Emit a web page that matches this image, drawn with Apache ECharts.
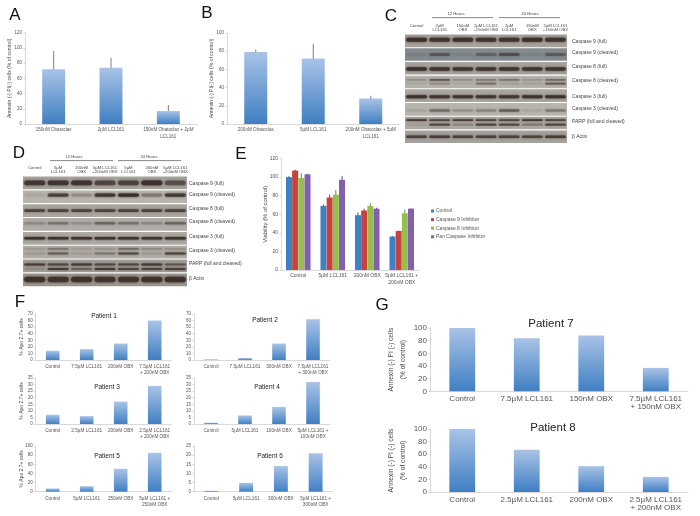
<!DOCTYPE html>
<html><head><meta charset="utf-8">
<script src="https://cdn.jsdelivr.net/npm/echarts@6/dist/echarts.min.js"></script>
<style>html,body{margin:0;padding:0;background:#fff}#c{width:700px;height:516px;filter:blur(.55px)}</style>
</head><body><div id="c"></div>
<script>
// ---------- bar panel data ----------
var aCategories = ['150nM Obatoclax', '2µM LCL161', '150nM Obatoclax + 2µM\nLCL161'];
var aValues = [72, 74, 17];
var aLow = [48, 62, 8];
var aHigh = [96, 87, 25];
var bCategories = ['200nM Obatoclax', '5µM LCL161', '200nM Obatoclax + 5µM\nLCL161'];
var bValues = [79, 72, 28];
var bLow = [77, 57, 25];
var bHigh = [82, 88, 31];

var eCategories = ['Control', '5µM LCL161', '200nM OBX', '5µM LCL161 +\n200nM OBX'];
var eNames = ['Control', 'Caspase 9 Inhibitor', 'Caspase 8 Inhibitor', 'Pan Caspase Inhibitor'];
var eControl = [100, 69, 59, 36];
var eCasp9 = [107, 78, 64, 42];
var eCasp8 = [99, 81, 69, 61];
var ePan = [103, 97, 66, 66];
var eErrControl = [1, 1.5, 3, 0.5];
var eErrCasp9 = [1, 3, 2, 0.5];
var eErrCasp8 = [5, 5, 3, 4];
var eErrPan = [0.5, 4, 1, 0.5];

var p1Cats = ['Control', '7.5µM LCL161', '200nM OBX', '7.5µM LCL161\n+ 200nM OBX'];
var p1Vals = [14, 16.5, 25, 60];
var p2Cats = ['Control', '7.5µM LCL161', '300nM OBX', '7.5µM LCL161\n+ 300nM OBX'];
var p2Vals = [1, 3, 25, 62];
var p3Cats = ['Control', '2.5µM LCL161', '200nM OBX', '2.5µM LCL161\n+ 200nM OBX'];
var p3Vals = [7, 6, 17, 29];
var p4Cats = ['Control', '5µM LCL161', '100nM OBX', '5µM LCL161 +\n100nM OBX'];
var p4Vals = [1, 6.5, 13, 32];
var p5Cats = ['Control', '5µM LCL161', '250nM OBX', '5µM LCL161 +\n250nM OBX'];
var p5Vals = [7, 12, 50, 85];
var p6Cats = ['Control', '5µM LCL161', '300nM OBX', '5µM LCL161 +\n300nM OBX'];
var p6Vals = [0.5, 4.8, 14, 21];
var p7Cats = ['Control', '7.5µM LCL161', '150nM OBX', '7.5µM LCL161\n+ 150nM OBX'];
var p7Vals = [100, 84, 88, 37];
var p8Cats = ['Control', '2.5µM LCL161', '200nM OBX', '2.5µM LCL161\n+ 200nM OBX'];
var p8Vals = [100, 67, 41, 24];

// ---------- blot data ----------
var rowNames = ['Caspase 9 (full)', 'Caspase 9 (cleaved)', 'Caspase 8 (full)', 'Caspase 8 (cleaved)', 'Caspase 3 (full)', 'Caspase 3 (cleaved)', 'PARP (full and cleaved)', 'β Actin'];
var cLanes = ['Control\n ', '2µM\nLCL161', '150nM\nOBX', '2µM LCL161\n+150nM OBX', '2µM\nLCL161', '150nM\nOBX', '2µM LCL161\n+150nM OBX'];
var dLanes = ['Control\n ', '5µM\nLCL161', '200nM\nOBX', '5µM LCL161\n+200nM OBX', '5µM\nLCL161', '200nM\nOBX', '5µM LCL161\n+200nM OBX'];
var cShades = ['#a5a19b', '#838b8f', '#a6a39e', '#b5b2ac', '#aaa7a1', '#b8b5af', '#aeaaa4', '#a5a29d'];
var dShades = ['#a6a29c', '#b8b4ae', '#aaa6a0', '#b0aca6', '#adA9a3', '#b0aca6', '#a29e98', '#9a968f'];
// [row, position within row, band thickness, intensity of each lane]
var cBandRows = [
  [0, .42, 4.2, [.95, .85, .9, .85, .85, .95, .85]],
  [1, .5, 3, [.08, .42, .05, .3, .5, .05, .36]],
  [2, .55, 3.4, [.92, .85, .85, .85, .85, .85, .85]],
  [3, .35, 1.6, [.18, .55, .18, .3, .35, .15, .4]],
  [3, .62, 1.6, [.05, .2, .05, .4, .1, .1, .55]],
  [4, .58, 2.8, [.95, .85, .85, .85, .85, .9, .9]],
  [5, .58, 2.4, [.08, .4, .18, .25, .5, .06, .3]],
  [6, .28, 1.7, [.85, .7, .8, .72, .72, .85, .72]],
  [6, .62, 1.7, [.08, .75, .25, .78, .75, .35, .78]],
  [7, .5, 2.4, [.72, .75, .72, .72, .72, .68, .78]]
];
var dBandRows = [
  [0, .5, 4.6, [.8, .82, .85, .6, .65, .95, .52]],
  [1, .38, 3.4, [.05, .72, .18, .85, .98, .3, .82]],
  [2, .5, 2.8, [.68, .68, .68, .68, .68, .68, .68]],
  [3, .42, 2.6, [.18, .32, .15, .42, .33, .2, .42]],
  [4, .5, 2.6, [.95, .92, .92, .92, .92, .92, .92]],
  [5, .27, 1.6, [.1, .32, .1, .14, .38, .2, .14]],
  [5, .6, 2, [.1, .5, .1, .32, .65, .12, .75]],
  [6, .4, 2, [.8, .68, .85, .65, .68, .85, .52]],
  [6, .72, 2.2, [.12, .8, .42, .8, .7, .7, .75]],
  [7, .48, 5.6, [.85, .82, .85, .82, .82, .85, .88]]
];

// ---------- option assembly ----------
var G = echarts.graphic;
var barFill = new G.LinearGradient(0, 0, 0, 1, [{offset: 0, color: '#a9c3e6'}, {offset: 1, color: '#3f7fc3'}]);
var grid = [], xAxis = [], yAxis = [], series = [], title = [], texts = [];

function addAxes(box, cats, yMax, yStep, yName, opt) {
  opt = opt || {};
  var i = grid.length;
  grid.push({left: box[0], top: box[1], width: box[2], height: box[3]});
  xAxis.push({gridIndex: i, type: 'category', data: cats,
    axisLine: {lineStyle: {color: '#cfcfcf', width: .8}}, axisTick: {show: false},
    axisLabel: {interval: 0, fontSize: opt.xf || 5, color: opt.xc || '#555', margin: opt.xm || 4, lineHeight: opt.xl || (opt.xf || 5) + 1.6, fontFamily: 'Liberation Sans'}});
  yAxis.push({gridIndex: i, type: 'value', min: 0, max: yMax, interval: yStep,
    name: yName, nameLocation: 'middle', nameGap: opt.ng || 14, nameRotate: 90, nameMoveOverlap: false,
    nameTextStyle: {fontSize: opt.nf || 5.5, color: '#444', fontFamily: 'Liberation Sans', lineHeight: opt.nl || (opt.nf || 5.5) + 1},
    axisLine: {show: true, lineStyle: {color: '#cfcfcf', width: .8}},
    axisTick: {show: true, length: 1.5, lineStyle: {color: '#bbb', width: .6}},
    splitLine: {show: false},
    axisLabel: {fontSize: opt.yf || 4.5, color: '#555', margin: 3, fontFamily: 'Liberation Sans'}});
  return i;
}
function errRender(offsetFn, color) {
  return function (params, api) {
    var c = api.value(0), a = api.coord([c, api.value(1)]), b = api.coord([c, api.value(2)]);
    var dx = offsetFn ? offsetFn : 0;
    return {type: 'line', shape: {x1: a[0] + dx, y1: a[1], x2: b[0] + dx, y2: b[1]}, style: {stroke: color, lineWidth: 1}};
  };
}
function addBarPanel(box, cats, vals, yMax, yStep, yName, opt, low, high) {
  var i = addAxes(box, cats, yMax, yStep, yName, opt);
  series.push({type: 'bar', xAxisIndex: i, yAxisIndex: i, data: vals, barWidth: '40%', itemStyle: {color: barFill}, silent: true, animation: false});
  if (low) {
    series.push({type: 'custom', xAxisIndex: i, yAxisIndex: i, animation: false, silent: true,
      encode: {x: 0, y: [1, 2]},
      data: low.map(function (v, k) { return [k, v, high[k]]; }),
      renderItem: errRender(0, '#7a7f85')});
  }
}
function addPatient(name, tx, ty, tf) {
  title.push({text: name, left: tx, top: ty, padding: 0, textAlign: 'center', textVerticalAlign: 'middle',
    textStyle: {fontSize: tf, fontWeight: 'normal', color: '#222', fontFamily: 'Liberation Sans'}});
}

// A, B
var annexinName = 'Annexin (-) PI(-) cells (% of control)';
addBarPanel([25, 32.7, 172, 91.3], aCategories, aValues, 120, 20, annexinName, {ng: 12, nf: 5.1, xf: 4.6, xm: 3}, aLow, aHigh);
addBarPanel([227, 33, 172.5, 91], bCategories, bValues, 100, 20, annexinName, {ng: 12, nf: 5.1, xf: 4.6, xm: 3}, bLow, bHigh);

// E
(function () {
  var i = addAxes([281, 158.5, 138, 111.5], eCategories, 120, 20, 'Viability (% of control)', {ng: 12.5, xf: 5, yf: 5, nf: 5.9, xm: 2.5});
  var sets = [eControl, eCasp9, eCasp8, ePan], errs = [eErrControl, eErrCasp9, eErrCasp8, eErrPan];
  var cols = ['#3f7fc4', '#c8423c', '#94bf4e', '#8360ad'], dark = ['#34618f', '#8f3b37', '#6e8c3f', '#5e4a80'];
  sets.forEach(function (vals, s) {
    series.push({type: 'bar', name: eNames[s], xAxisIndex: i, yAxisIndex: i, data: vals, barWidth: 6, barGap: '3%', itemStyle: {color: cols[s]}, silent: true, animation: false});
  });
  sets.forEach(function (vals, s) {
    series.push({type: 'custom', xAxisIndex: i, yAxisIndex: i, animation: false, silent: true, encode: {x: 0, y: [1, 2]},
      data: vals.map(function (v, k) { return [k, v - errs[s][k], v + errs[s][k]]; }),
      renderItem: errRender((s - 1.5) * 6.2, dark[s])});
  });
})();

// F
var apoName = '% Apo 2.7+ cells';
var fOpt = {ng: 10.7, xf: 4.7, yf: 4.5, nf: 5, xm: 3.5};
addBarPanel([35.7, 314, 136, 46], p1Cats, p1Vals, 70, 10, apoName, fOpt);
addPatient('Patient 1', 104, 316, 6.5);
addBarPanel([194, 314, 136, 46], p2Cats, p2Vals, 70, 10, '', fOpt);
addPatient('Patient 2', 265, 320, 6.5);
addBarPanel([35.7, 378, 136, 46], p3Cats, p3Vals, 35, 5, apoName, fOpt);
addPatient('Patient 3', 107, 387, 6.5);
addBarPanel([194, 378, 136, 46], p4Cats, p4Vals, 35, 5, '', fOpt);
addPatient('Patient 4', 267, 387, 6.5);
addBarPanel([35.7, 446, 136, 45.7], p5Cats, p5Vals, 100, 20, apoName, fOpt);
addPatient('Patient 5', 107, 456, 6.5);
addBarPanel([194, 446, 139, 45.7], p6Cats, p6Vals, 25, 5, '', fOpt);
addPatient('Patient 6', 270, 456, 6.5);

// G
var gName = 'Annexin (-) PI (-) cells\n(% of control)';
var gOpt = {ng: 20.5, xf: 8, yf: 8, nf: 6.6, nl: 12, xm: 3.5, xl: 8};
addBarPanel([430, 328, 258, 63.3], p7Cats, p7Vals, 100, 20, gName, gOpt);
addPatient('Patient 7', 551, 324, 11.5);
addBarPanel([430, 429, 258, 63], p8Cats, p8Vals, 100, 20, gName, gOpt);
addPatient('Patient 8', 553, 428, 11.5);

// Blots
function addBlot(box, lanes, shades, bandRows, labelX, labelYs, laneFont) {
  var i = grid.length;
  grid.push({left: box[0], top: box[1], width: box[2], height: box[3]});
  xAxis.push({gridIndex: i, type: 'category', position: 'top', data: lanes,
    axisLine: {show: false}, axisTick: {show: false},
    axisLabel: {interval: 0, fontSize: laneFont, color: '#444', margin: 1.5, lineHeight: laneFont + .5, fontFamily: 'Liberation Sans'}});
  yAxis.push({gridIndex: i, type: 'value', min: 0, max: 8, inverse: true, show: false});
  var laneW = box[2] / lanes.length;
  series.push({type: 'custom', xAxisIndex: i, yAxisIndex: i, animation: false, silent: true, clip: false,
    encode: {y: 0},
    data: shades.map(function (c, r) { return [r, c]; }),
    renderItem: function (p, api) {
      var r = api.value(0), t = api.coord([0, r + .04]), b = api.coord([0, r + .96]);
      return {type: 'rect', shape: {x: box[0], y: t[1], width: box[2], height: b[1] - t[1]}, style: {fill: shades[r]}};
    }});
  var flat = [];
  bandRows.forEach(function (row) {
    row[3].forEach(function (v, lane) { flat.push([lane, row[0] + row[1], row[2], v]); });
  });
  series.push({type: 'custom', xAxisIndex: i, yAxisIndex: i, animation: false, silent: true, clip: false,
    encode: {x: 0, y: 1},
    data: flat,
    renderItem: function (p, api) {
      var c = api.coord([api.value(0), api.value(1)]), h = api.value(2), w = laneW * .9;
      return {type: 'rect', shape: {x: c[0] - w / 2, y: c[1] - h / 2, width: w, height: h, r: h / 2},
        style: {fill: '#3b2f2a', opacity: api.value(3), shadowBlur: 2.5, shadowColor: '#3b2f2a'}};
    }});
  rowNames.forEach(function (n, r) {
    texts.push({type: 'text', x: labelX, y: labelYs[r], style: {text: n, fontSize: 5, fill: '#444', verticalAlign: 'middle', fontFamily: 'Liberation Sans'}});
  });
}
addBlot([405, 34, 162, 109.6], cLanes, cShades, cBandRows, 572, [42, 53, 67, 81, 97, 109, 122, 137], 4.2);
addBlot([23, 176, 164, 110.7], dLanes, dShades, dBandRows, 189, [184, 195, 209, 222, 237, 251, 264, 279], 4.2);

// Hour headers
[[456, 14, 432, 493, '12 Hours'], [530, 14, 499, 560, '24 Hours'], [74, 157, 50, 113, '12 Hours'], [149, 157, 118, 181, '24 Hours']].forEach(function (h) {
  texts.push({type: 'text', x: h[0], y: h[1], style: {text: h[4], fontSize: 4.2, fill: '#444', align: 'center', verticalAlign: 'middle', fontFamily: 'Liberation Sans'}});
  texts.push({type: 'line', shape: {x1: h[2], y1: h[1] + 3.6, x2: h[3], y2: h[1] + 3.6}, style: {stroke: '#555', lineWidth: .7}});
});
// Panel letters
[['A', 15, 15], ['B', 207, 13], ['C', 391, 16], ['D', 19, 153], ['E', 241, 154], ['F', 20, 302], ['G', 382, 305]].forEach(function (l) {
  texts.push({type: 'text', x: l[1], y: l[2], style: {text: l[0], fontSize: 17, fill: '#111', align: 'center', verticalAlign: 'middle', fontFamily: 'Liberation Sans'}});
});

var chart = echarts.init(document.getElementById('c'), null, {renderer: 'canvas'});
chart.setOption({
  backgroundColor: '#fff', animation: false,
  title: title, grid: grid, xAxis: xAxis, yAxis: yAxis, series: series,
  legend: {data: eNames, orient: 'vertical', left: 426, top: 203.5, itemWidth: 3, itemHeight: 3, itemGap: 3.6, icon: 'rect', selectedMode: false,
    textStyle: {fontSize: 5, color: '#555', fontFamily: 'Liberation Sans', padding: [0, 0, 0, -3]}},
  graphic: {elements: texts}
});
</script></body></html>
